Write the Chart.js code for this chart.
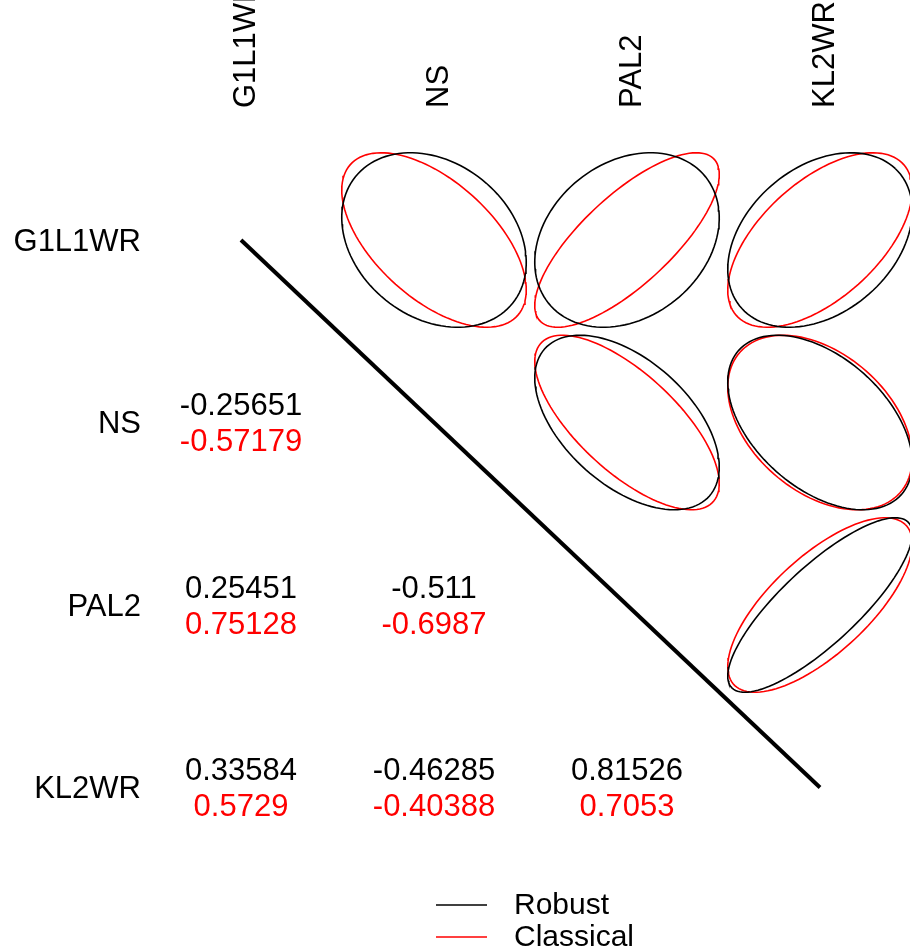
<!DOCTYPE html>
<html>
<head>
<meta charset="utf-8">
<script src="https://cdn.jsdelivr.net/npm/chart.js@4"></script>
<style>
  body { margin: 0; background: white; }
  #wrap { width: 910px; height: 952px; }
</style>
</head>
<body>
<div id="wrap"><canvas id="corr-plot"></canvas></div>
<script>
const variables = ["G1L1WR", "NS", "PAL2", "KL2WR"];
const robustCor = [
    [1, -0.25651, 0.25451, 0.33584],
    [-0.25651, 1, -0.511, -0.46285],
    [0.25451, -0.511, 1, 0.81526],
    [0.33584, -0.46285, 0.81526, 1],
];
const classicalCor = [
    [1, -0.57179, 0.75128, 0.5729],
    [-0.57179, 1, -0.6987, -0.40388],
    [0.75128, -0.6987, 1, 0.7053],
    [0.5729, -0.40388, 0.7053, 1],
];
const legendLabels = ["Robust", "Classical"];
const colors = ["black", "#ff0000"];

const FONT = "31px 'Liberation Sans', Arial, sans-serif";
const LEGEND_FONT = "30px 'Liberation Sans', Arial, sans-serif";
const R = 0.478;

// ellipse of the "ellipse" package: x = cos(a + d/2), y = cos(a - d/2), d = acos(r)
function ellipsePoints(r, col, row) {
    const d = Math.acos(r);
    const pts = [];
    for (let k = 0; k <= 120; k++) {
        const a = 2 * Math.PI * k / 120;
        pts.push({ x: col + R * Math.cos(a + d / 2), y: row - R * Math.cos(a - d / 2) });
    }
    return pts;
}

const datasets = [];
[robustCor, classicalCor].forEach((mat, m) => {
    for (let i = 0; i < variables.length; i++) {
        for (let j = i + 1; j < variables.length; j++) {
            datasets.push({
                label: legendLabels[m],
                data: ellipsePoints(mat[i][j], j + 1, i + 1),
                showLine: true,
                borderColor: colors[m],
                borderWidth: 1.6,
                pointRadius: 0,
                tension: 0,
            });
        }
    }
});
datasets.push({
    label: "diag",
    data: [{ x: 1, y: 1 }, { x: variables.length, y: variables.length }],
    showLine: true,
    borderColor: "black",
    borderWidth: 4,
    pointRadius: 0,
});

const textPlugin = {
    id: "corrText",
    afterDraw(chart) {
        const { ctx, scales: { x, y } } = chart;
        ctx.save();
        ctx.font = FONT;
        ctx.fillStyle = "black";
        ctx.textBaseline = "middle";
        // row labels
        ctx.textAlign = "right";
        variables.forEach((v, i) => {
            ctx.fillText(v, 141, y.getPixelForValue(i + 1) + 2);
        });
        // column labels, rotated
        variables.forEach((v, j) => {
            ctx.save();
            ctx.translate(x.getPixelForValue(j + 1) + 5, 108);
            ctx.rotate(-Math.PI / 2);
            ctx.textAlign = "left";
            ctx.fillText(v, 0, 0);
            ctx.restore();
        });
        // lower triangle values
        ctx.textAlign = "center";
        for (let i = 0; i < variables.length; i++) {
            for (let j = 0; j < i; j++) {
                const px = x.getPixelForValue(j + 1);
                const py = y.getPixelForValue(i + 1);
                ctx.fillStyle = colors[0];
                ctx.fillText(String(robustCor[i][j]), px, py - 16);
                ctx.fillStyle = colors[1];
                ctx.fillText(String(classicalCor[i][j]), px, py + 20);
            }
        }
        // legend
        ctx.font = LEGEND_FONT;
        ctx.textAlign = "left";
        legendLabels.forEach((lab, k) => {
            const ly = 905 + k * 32;
            ctx.strokeStyle = colors[k];
            ctx.lineWidth = 1.5;
            ctx.beginPath();
            ctx.moveTo(436, ly);
            ctx.lineTo(487, ly);
            ctx.stroke();
            ctx.fillStyle = "black";
            ctx.fillText(lab, 514, ly + 1);
        });
        ctx.restore();
    }
};

const ctx = document.getElementById("corr-plot").getContext("2d");
new Chart(ctx, {
    type: "scatter",
    data: { datasets: datasets },
    options: {
        responsive: true,
        maintainAspectRatio: false,
        animation: false,
        layout: { padding: 0 },
        scales: {
            x: { type: "linear", display: false, min: 1 - 241 / 193, max: 1 - 241 / 193 + 910 / 193 },
            y: { type: "linear", display: false, reverse: true, min: 1 - 240 / 182.5, max: 1 - 240 / 182.5 + 952 / 182.5 },
        },
        plugins: {
            legend: { display: false },
            tooltip: { enabled: false },
        },
    },
    plugins: [textPlugin],
});
</script>
</body>
</html>
